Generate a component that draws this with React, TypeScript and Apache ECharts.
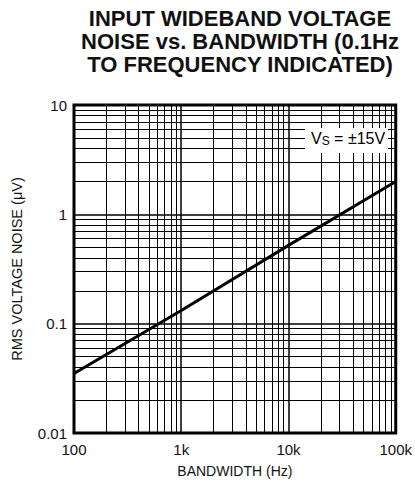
import React, { useEffect, useRef } from "react";
import * as echarts from "echarts";

const bandwidthHz = [100, 1000, 10000, 100000];
const noiseUv = [0.035, 0.132, 0.52, 2.0];
const xTickLabels: Record<string, string> = { "100": "100", "1000": "1k", "10000": "10k", "100000": "100k" };
const yTickLabels: Record<string, string> = { "0.01": "0.01", "0.1": "0.1", "1": "1", "10": "10" };
const xDecades = [100, 1000, 10000];
const yDecades = [0.01, 0.1, 1];
const minorSteps = [2, 3, 4, 5, 6, 7, 8, 9];

const FONT = "'Liberation Sans Narrow', 'Liberation Sans', Arial, sans-serif";

export default function App() {
  const ref = useRef<HTMLDivElement>(null);
  useEffect(() => {
    if (!ref.current) return;
    const chart = echarts.init(ref.current, undefined, { renderer: "svg" });
    const xMinor: number[] = [];
    xDecades.forEach((d) => minorSteps.forEach((m) => xMinor.push(d * m)));
    const yMinor: number[] = [];
    yDecades.forEach((d) => minorSteps.forEach((m) => yMinor.push(+(d * m).toPrecision(3))));
    const markData: any[] = [
      ...xMinor.map((v) => ({ xAxis: v })),
      ...yMinor.map((v) => ({ yAxis: v })),
    ];
    chart.setOption({
      animation: false,
      backgroundColor: "#fff",
      title: {
        text: "INPUT WIDEBAND VOLTAGE\nNOISE vs. BANDWIDTH (0.1Hz\nTO FREQUENCY INDICATED)",
        left: 240,
        top: 7,
        textAlign: "center",
        padding: 0,
        textStyle: {
          fontFamily: "'Liberation Sans', Arial, sans-serif",
          fontWeight: "bold",
          fontSize: 22,
          lineHeight: 23,
          color: "#111",
        },
      },
      grid: {
        left: 74,
        right: 17,
        top: 105,
        bottom: 53,
        show: true,
        borderColor: "#000",
        borderWidth: 3,
        backgroundColor: "transparent",
      },
      xAxis: {
        type: "log",
        logBase: 10,
        min: 100,
        max: 100000,
        name: "BANDWIDTH (Hz)",
        nameLocation: "middle",
        nameGap: 31,
        nameTextStyle: { fontFamily: FONT, fontSize: 14, color: "#111" },
        axisLine: { show: false },
        axisTick: { show: false },
        axisLabel: {
          fontFamily: FONT,
          fontSize: 15,
          color: "#111",
          margin: 9,
          formatter: (v: number) => xTickLabels[String(Math.round(v))] ?? "",
        },
        splitLine: { show: true, lineStyle: { color: "#000", width: 1.5 } },
      },
      yAxis: {
        type: "log",
        logBase: 10,
        min: 0.01,
        max: 10,
        name: "RMS VOLTAGE NOISE (\u03bcV)",
        nameLocation: "middle",
        nameGap: 50,
        nameTextStyle: { fontFamily: FONT, fontSize: 14.5, color: "#111" },
        axisLine: { show: false },
        axisTick: { show: false },
        axisLabel: {
          fontFamily: FONT,
          fontSize: 15,
          color: "#111",
          margin: 7,
          formatter: (v: number) => yTickLabels[String(+v.toPrecision(3))] ?? "",
        },
        splitLine: { show: true, lineStyle: { color: "#000", width: 1.5 } },
      },
      series: [
        {
          type: "line",
          data: bandwidthHz.map((x, i) => [x, noiseUv[i]]),
          showSymbol: false,
          lineStyle: { color: "#000", width: 3 },
          z: 5,
          markLine: {
            silent: true,
            symbol: ["none", "none"],
            label: { show: false },
            lineStyle: { color: "#000", width: 1, type: "solid" },
            data: markData,
            z: 1,
          },
        },
      ],
      graphic: [
        {
          type: "rect",
          shape: { x: 305, y: 128, width: 83, height: 25 },
          style: { fill: "#fff" },
          z: 10,
        },
        {
          type: "text",
          x: 311,
          y: 130,
          z: 11,
          style: {
            text: "{a|V}{b|S}{a| = \u00b115V}",
            rich: {
              a: { fontFamily: FONT, fontSize: 16, color: "#111" },
              b: { fontFamily: FONT, fontSize: 12, color: "#111", padding: [5, 0, 0, 0] },
            },
          },
        },
      ],
    });
    return () => chart.dispose();
  }, []);
  return <div ref={ref} style={{ width: 415, height: 486, position: "absolute", left: 0, top: 0 }} />;
}
